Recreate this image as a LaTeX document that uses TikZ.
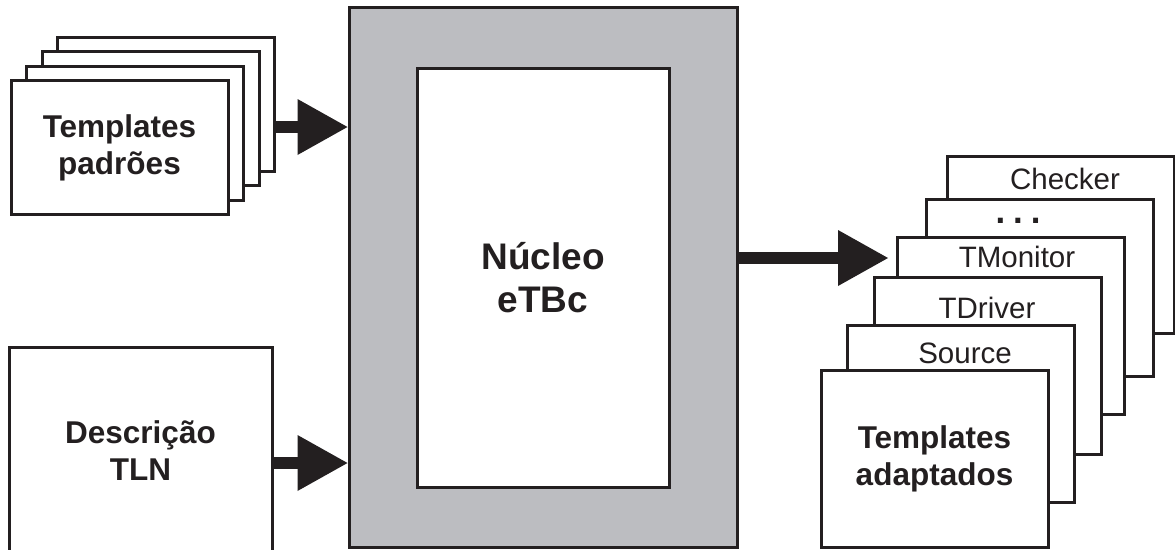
\documentclass[tikz,border=0pt]{standalone}
\usepackage{fontspec}
\setmainfont{Liberation Sans}
\newfontfamily\dotfont{DejaVu Sans}
\usetikzlibrary{arrows.meta}
\definecolor{ink}{HTML}{231F20}
\definecolor{framegray}{HTML}{BCBDC1}
\begin{document}
\begin{tikzpicture}[x=1pt,y=-1pt,
  box/.style={draw=ink,line width=3pt,fill=white,inner sep=0pt,align=center,text=ink},
  leftstack/.style={box,minimum width=217pt,minimum height=134pt},
  rightstack/.style={box,minimum width=227pt,minimum height=177pt},
  bigtxt/.style={font=\fontsize{31.5}{37}\selectfont\bfseries},
  coretxt/.style={font=\fontsize{37}{43}\selectfont\bfseries},
  lbl/.style={text=ink,inner sep=0pt,anchor=base,font=\fontsize{29.5}{34}\selectfont},
  flow/.style={draw=ink,line width=12pt,-{Triangle[length=50pt,width=56pt,line width=0pt]}}
]
\useasboundingbox (0,0) rectangle (1175,549);
\clip (0,0) rectangle (1175,549);

% left stack of standard templates
\node[leftstack] (back) at (166,104) {};
\node[leftstack] (b2) at (150.5,118.5) {};
\node[leftstack] (b3) at (135,133) {};
\node[leftstack,bigtxt] (front) at (119.5,147.5) {Templates\\padrões};

% TLN description
\node[box,bigtxt,minimum width=263pt,minimum height=208pt] (desc) at (140.5,451) {Descrição\\TLN};

% core
\node[box,fill=framegray,minimum width=388pt,minimum height=540pt] (core) at (543,277) {};
\node[box,coretxt,minimum width=252pt,minimum height=419pt] (nucleo) at (543,277.5) {Núcleo\\eTBc};

% right stack of adapted templates
\node[rightstack] (chk) at (1061,245) {};
\node[rightstack] (dots) at (1039.5,288) {};
\node[rightstack] (tmon) at (1011,326) {};
\node[rightstack] (tdrv) at (987.5,365.5) {};
\node[rightstack] (src) at (960.5,413.5) {};
\node[rightstack,bigtxt] (adapt) at (934.5,458.5) {Templates\\adaptados};

\node[lbl] (lchk) at (1065,189) {Checker};
\node[text=ink,inner sep=0pt,anchor=base,text height=8pt,text depth=0pt,font=\dotfont\fontsize{28}{28}\selectfont\bfseries] (ldots) at (1018,223) {.\kern7pt.\kern7pt.};
\node[lbl] (ltmon) at (1017,267) {TMonitor};
\node[lbl] (ltdrv) at (987,318) {TDriver};
\node[lbl] (lsrc) at (965,363) {Source};

% connectors
\coordinate (a1s) at (back.east |- 0,127);
\coordinate (a1e) at (core.west |- 0,127);
\coordinate (a2s) at (desc.east |- 0,463);
\coordinate (a2e) at (core.west |- 0,463);
\coordinate (a3s) at (core.east |- 0,258);
\coordinate (a3e) at ([xshift=-8pt]tmon.west |- 0,258);
\draw[flow] (a1s) -- (a1e);
\draw[flow] (a2s) -- (a2e);
\draw[flow] (a3s) -- (a3e);
\end{tikzpicture}
\end{document}
